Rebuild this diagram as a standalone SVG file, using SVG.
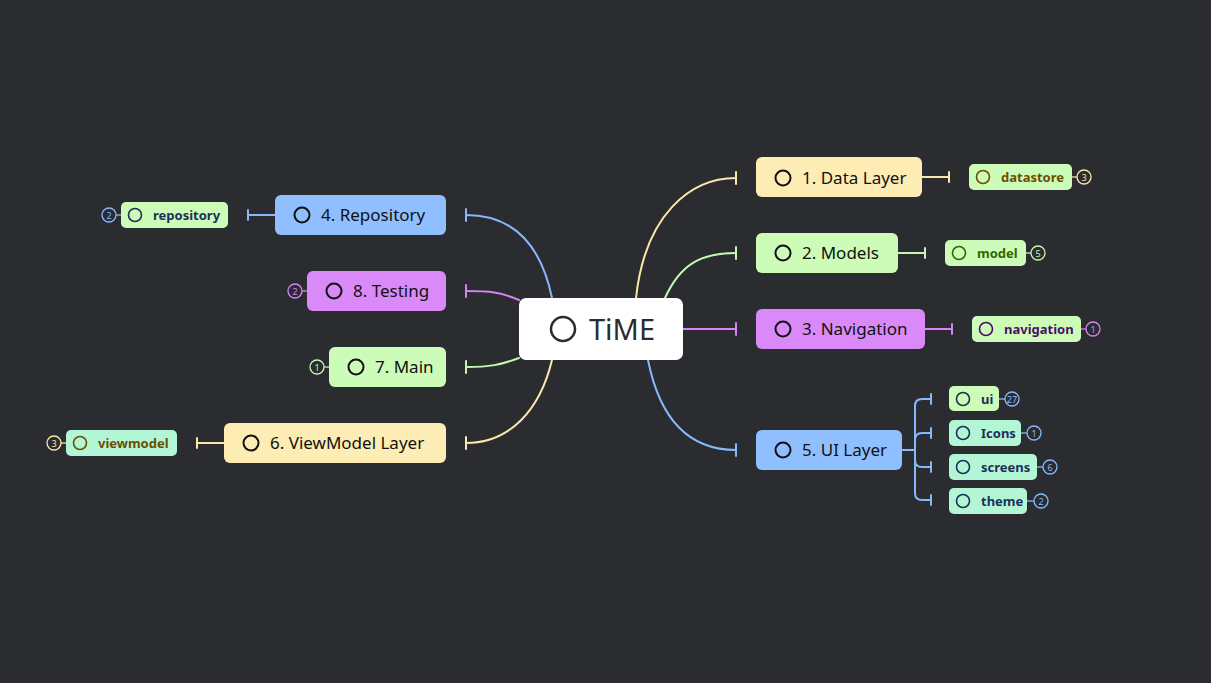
<svg xmlns="http://www.w3.org/2000/svg" width="1211" height="683" viewBox="0 0 1211 683">
<style>
.bg{fill:#2b2c30}
.n{stroke:none}
.lbl{font-family:"Noto Sans","Open Sans",sans-serif;font-size:17px;fill:#111}
.sub{font-family:"Noto Sans","Open Sans",sans-serif;font-size:13px;font-weight:bold}
.ic{fill:none;stroke:#111;stroke-width:2}
.c{fill:none;stroke-width:2;stroke-linecap:round}
.cnt{fill:#2b2c30;stroke-width:1.3}
.ct{font-family:"Noto Sans",sans-serif;font-size:9px;text-anchor:middle}
.y{stroke:#fbe7a9}.g{stroke:#c5f8b0}.p{stroke:#d783f7}.b{stroke:#86b8fb}
</style>
<rect class="bg" x="0" y="0" width="1211" height="683"/>
<g id="connectors">
<path class="c y" d="M636,298 C645,215 690,178 736,178"/><path class="c y" d="M736,172 V184"/>
<path class="c g" d="M665,298 C680,265 700,253 736,253"/><path class="c g" d="M736,247 V259"/>
<path class="c p" d="M683,329 H736"/><path class="c p" d="M736,323 V335"/>
<path class="c b" d="M648,360 C660,420 690,450 736,450"/><path class="c b" d="M736,444 V456"/>
<path class="c b" d="M552,298 C540,240 510,215 466,215"/><path class="c b" d="M466,209 V221"/>
<path class="c p" d="M519,300 C500,292 490,291 466,291"/><path class="c p" d="M466,285 V297"/>
<path class="c g" d="M519,358 C500,365 490,367 466,367"/><path class="c g" d="M466,361 V373"/>
<path class="c y" d="M552,360 C540,410 510,443 466,443"/><path class="c y" d="M466,437 V449"/>
<path class="c y" d="M922,177 H949"/><path class="c y" d="M949,172 V182"/>
<path class="c g" d="M898,253 H925"/><path class="c g" d="M925,248 V258"/>
<path class="c p" d="M925,329 H952"/><path class="c p" d="M952,324 V334"/>
<path class="c b" d="M275,215 H248"/><path class="c b" d="M248,210 V220"/>
<path class="c y" d="M224,443 H197"/><path class="c y" d="M197,438 V448"/>
<path class="c b" d="M902,450 H915"/>
<path class="c b" d="M931,399 H922 Q915,399 915,406 V493 Q915,500 922,500 H931"/>
<path class="c b" d="M915,440 Q915,433 922,433 H931"/>
<path class="c b" d="M915,460 Q915,467 922,467 H931"/>
<path class="c b" d="M931,394 V404"/><path class="c b" d="M931,428 V438"/><path class="c b" d="M931,462 V472"/><path class="c b" d="M931,495 V505"/>
</g>
<g id="center">
<rect x="519" y="298" width="164" height="62" rx="7" fill="#ffffff"/>
<circle cx="563" cy="329" r="12" fill="none" stroke="#2b2c30" stroke-width="2.5"/>
<text x="589" y="340" font-family="Noto Sans,sans-serif" font-size="29" fill="#2b2c30">TiME</text>
</g>
<g id="n1">
<rect x="756" y="157" width="166" height="40" rx="6" fill="#fdedb4"/>
<circle class="ic" cx="783" cy="178" r="7.5"/>
<text class="lbl" x="802" y="184">1. Data Layer</text>
</g>
<g id="n2">
<rect x="756" y="233" width="142" height="40" rx="6" fill="#ccfcb7"/>
<circle class="ic" cx="783" cy="253" r="7.5"/>
<text class="lbl" x="802" y="259">2. Models</text>
</g>
<g id="n3">
<rect x="756" y="309" width="169" height="40" rx="6" fill="#d98af8"/>
<circle class="ic" cx="783" cy="329" r="7.5"/>
<text class="lbl" x="802" y="335">3. Navigation</text>
</g>
<g id="n5">
<rect x="756" y="430" width="146" height="40" rx="6" fill="#8fbfff"/>
<circle class="ic" cx="783" cy="450" r="7.5"/>
<text class="lbl" x="802" y="456">5. UI Layer</text>
</g>
<g id="n4">
<rect x="275" y="195" width="171" height="40" rx="6" fill="#8fbfff"/>
<circle class="ic" cx="302" cy="215" r="7.5"/>
<text class="lbl" x="321" y="221">4. Repository</text>
</g>
<g id="n8">
<rect x="307" y="271" width="139" height="40" rx="6" fill="#d98af8"/>
<circle class="ic" cx="334" cy="291" r="7.5"/>
<text class="lbl" x="353" y="297">8. Testing</text>
</g>
<g id="n7">
<rect x="329" y="347" width="117" height="40" rx="6" fill="#ccfcb7"/>
<circle class="ic" cx="356" cy="367" r="7.5"/>
<text class="lbl" x="375" y="373">7. Main</text>
</g>
<g id="n6">
<rect x="224" y="423" width="222" height="40" rx="6" fill="#fdedb4"/>
<circle class="ic" cx="251" cy="443" r="7.5"/>
<text class="lbl" x="270" y="449">6. ViewModel Layer</text>
</g>
<g id="datastore">
<rect x="969" y="164" width="103" height="26" rx="5" fill="#ccfcb7"/>
<circle cx="983" cy="177" r="6.5" fill="none" stroke="#6b4e00" stroke-width="1.6"/>
<text class="sub" x="1001" y="182" fill="#6b4e00">datastore</text>
<path d="M1072,177 H1077" stroke="#fbe7a9" stroke-width="1.3"/>
<circle class="cnt y" cx="1084" cy="177" r="7"/>
<text class="ct" x="1084" y="180.5" fill="#fbe7a9">3</text>
</g>
<g id="model">
<rect x="945" y="240" width="81" height="26" rx="5" fill="#ccfcb7"/>
<circle cx="959" cy="253" r="6.5" fill="none" stroke="#2a6a00" stroke-width="1.6"/>
<text class="sub" x="977" y="258" fill="#2a6a00">model</text>
<path d="M1026,253 H1031" stroke="#c5f8b0" stroke-width="1.3"/>
<circle class="cnt g" cx="1038" cy="253" r="7"/>
<text class="ct" x="1038" y="256.5" fill="#c5f8b0">5</text>
</g>
<g id="navigation">
<rect x="972" y="316" width="109" height="26" rx="5" fill="#ccfcb7"/>
<circle cx="986" cy="329" r="6.5" fill="none" stroke="#4a0f6a" stroke-width="1.6"/>
<text class="sub" x="1004" y="334" fill="#4a0f6a">navigation</text>
<path d="M1081,329 H1086" stroke="#d783f7" stroke-width="1.3"/>
<circle class="cnt p" cx="1093" cy="329" r="7"/>
<text class="ct" x="1093" y="332.5" fill="#d783f7">1</text>
</g>
<g id="ui">
<rect x="949" y="386" width="50" height="25" rx="5" fill="#ccfcb7"/>
<circle cx="963" cy="399" r="6.5" fill="none" stroke="#1b2f5a" stroke-width="1.6"/>
<text class="sub" x="981" y="404" fill="#1b2f5a">ui</text>
<path d="M999,399 H1005" stroke="#86b8fb" stroke-width="1.3"/>
<circle class="cnt b" cx="1012" cy="399" r="7"/>
<text class="ct" x="1012" y="402.5" fill="#86b8fb" font-size="8">27</text>
</g>
<g id="icons">
<rect x="949" y="420" width="72" height="26" rx="5" fill="#b3f6d6"/>
<circle cx="963" cy="433" r="6.5" fill="none" stroke="#1b2f5a" stroke-width="1.6"/>
<text class="sub" x="981" y="438" fill="#1b2f5a">Icons</text>
<path d="M1021,433 H1027" stroke="#86b8fb" stroke-width="1.3"/>
<circle class="cnt b" cx="1034" cy="433" r="7"/>
<text class="ct" x="1034" y="436.5" fill="#86b8fb">1</text>
</g>
<g id="screens">
<rect x="949" y="454" width="88" height="26" rx="5" fill="#b3f6d6"/>
<circle cx="963" cy="467" r="6.5" fill="none" stroke="#1b2f5a" stroke-width="1.6"/>
<text class="sub" x="981" y="472" fill="#1b2f5a">screens</text>
<path d="M1037,467 H1043" stroke="#86b8fb" stroke-width="1.3"/>
<circle class="cnt b" cx="1050" cy="467" r="7"/>
<text class="ct" x="1050" y="470.5" fill="#86b8fb">6</text>
</g>
<g id="theme">
<rect x="949" y="488" width="78" height="26" rx="5" fill="#b3f6d6"/>
<circle cx="963" cy="501" r="6.5" fill="none" stroke="#1b2f5a" stroke-width="1.6"/>
<text class="sub" x="981" y="506" fill="#1b2f5a">theme</text>
<path d="M1027,501 H1034" stroke="#86b8fb" stroke-width="1.3"/>
<circle class="cnt b" cx="1041" cy="501" r="7"/>
<text class="ct" x="1041" y="504.5" fill="#86b8fb">2</text>
</g>
<g id="repository">
<rect x="121" y="202" width="107" height="26" rx="5" fill="#ccfcb7"/>
<circle cx="135" cy="215" r="6.5" fill="none" stroke="#1b2f5a" stroke-width="1.6"/>
<text class="sub" x="153" y="220" fill="#1b2f5a">repository</text>
<path d="M121,215 H116" stroke="#86b8fb" stroke-width="1.3"/>
<circle class="cnt b" cx="109" cy="215" r="7"/>
<text class="ct" x="109" y="218.5" fill="#86b8fb">2</text>
</g>
<g id="testing-count">
<path d="M307,291 H302" stroke="#d783f7" stroke-width="1.3"/>
<circle class="cnt p" cx="295" cy="291" r="7"/>
<text class="ct" x="295" y="294.5" fill="#d783f7">2</text>
</g>
<g id="main-count">
<path d="M329,367 H324" stroke="#c5f8b0" stroke-width="1.3"/>
<circle class="cnt g" cx="317" cy="367" r="7"/>
<text class="ct" x="317" y="370.5" fill="#c5f8b0">1</text>
</g>
<g id="viewmodel">
<rect x="66" y="430" width="111" height="26" rx="5" fill="#b3f6d6"/>
<circle cx="80" cy="443" r="6.5" fill="none" stroke="#6b4e00" stroke-width="1.6"/>
<text class="sub" x="98" y="448" fill="#6b4e00">viewmodel</text>
<path d="M66,443 H61" stroke="#fbe7a9" stroke-width="1.3"/>
<circle class="cnt y" cx="54" cy="443" r="7"/>
<text class="ct" x="54" y="446.5" fill="#fbe7a9">3</text>
</g>
</svg>
